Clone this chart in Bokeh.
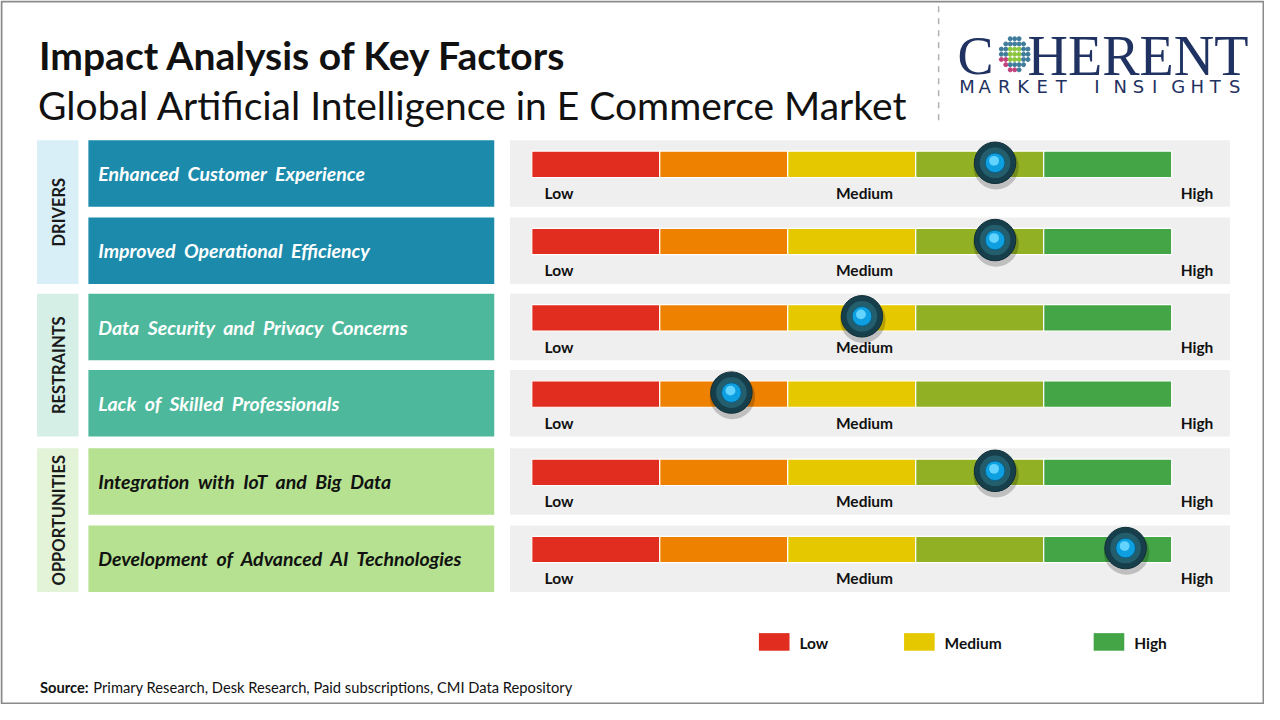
from bokeh.plotting import figure
from bokeh.models import Range1d
from bokeh.embed import file_html
from bokeh.resources import INLINE
from bokeh.core.properties import value
import math

# ---------------- data ----------------
categories = ["DRIVERS", "RESTRAINTS", "OPPORTUNITIES"]
factors = [
    "Enhanced\u00a0 Customer\u00a0 Experience",
    "Improved\u00a0 Operational\u00a0 Efficiency",
    "Data\u00a0 Security\u00a0 and\u00a0 Privacy\u00a0 Concerns",
    "Lack\u00a0 of\u00a0 Skilled\u00a0 Professionals",
    "Integration\u00a0 with\u00a0 IoT\u00a0 and\u00a0 Big\u00a0 Data",
    "Development\u00a0 of\u00a0 Advanced\u00a0 AI\u00a0 Technologies",
]
factor_category = [0, 0, 1, 1, 2, 2]
impact = [3.62, 3.62, 2.58, 1.56, 3.62, 4.64]          # on a 0..5 scale
scale_labels = ["Low", "Medium", "High"]
scale_label_pos = [0.1, 2.6, 5.07]
segment_colors = ["#e12d1f", "#ee8100", "#e6c800", "#92b024", "#43a545"]
legend_labels = ["Low", "Medium", "High"]
legend_colors = ["#e12d1f", "#e6c800", "#43a545"]

title = "Impact Analysis of Key Factors"
subtitle = "Global Artificial Intelligence in E Commerce Market"

# ---------------- layout ----------------
W, H = 1264, 704
p = figure(width=W, height=H, x_range=Range1d(0, 1280), y_range=Range1d(720, 0),
           output_backend="svg", toolbar_location=None, min_border=0)
p.axis.visible = False
p.grid.visible = False
p.outline_line_color = None
p.background_fill_color = "white"

FONT = value("Lato")
row_top = [143, 222, 300, 378, 458, 537]
row_h = 68
cat_fill = ["#d9eff8", "#d5efe7", "#e2f3d8"]
box_fill = ["#1b8aab", "#4db89b", "#b5e190"]
box_text = ["white", "white", "#111111"]

# frame
p.quad(left=[1], right=[1279], top=[1], bottom=[719], fill_color=None,
       line_color="#8a8a8a", line_width=2)

# titles
p.text(x=[39], y=[56], text=[title], text_font=FONT, text_font_style="bold",
       text_font_size="39px", text_color="#111111", text_baseline="middle")
p.text(x=[38], y=[107], text=[subtitle], text_font=FONT,
       text_font_size="39px", text_color="#111111", text_baseline="middle")

# dashed separator
p.segment(x0=[950], y0=[6], x1=[950], y1=[128], line_color="#b0b0b0",
          line_width=1.5, line_dash="6 6")

# logo
NAVY = "#1f3261"
p.text(x=[969], y=[57], text=["C"], text_font=value("Liberation Serif"),
       text_font_size="54px", text_color=NAVY, text_baseline="middle")
p.text(x=[1040], y=[57], text=["HERENT"], text_font=value("Liberation Serif"),
       text_font_size="56px", text_color=NAVY, text_baseline="middle")
gx, gy = [], []
gc = []
for i in range(-3, 4):
    for j in range(-3, 4):
        if i * i + j * j <= 10:
            gx.append(1027 + i * 4.5)
            gy.append(55 + j * 5.3)
            r2 = i * i + j * j
            if r2 <= 2:
                gc.append("#8cc63f")
            elif (i < -1 and j > 0) or (j >= 3 and i <= 0):
                gc.append("#c2417c")
            else:
                gc.append("#3f7c9c")
p.scatter(x=gx, y=gy, size=4.0, color=gc, marker="circle")
sub = "MARKET INSIGHTS"
p.text(x=[971 + k * 19.5 for k in range(len(sub))], y=[88] * len(sub), text=list(sub),
       text_font=value("DejaVu Sans"), text_font_size="18px", text_color=NAVY,
       text_baseline="middle", text_align="left")

# category side boxes
for c, name in enumerate(categories):
    rows = [i for i, fc in enumerate(factor_category) if fc == c]
    t = row_top[rows[0]]
    b = row_top[rows[-1]] + row_h
    p.quad(left=[37], right=[79], top=[t], bottom=[b], fill_color=cat_fill[c], line_color=None)
    p.text(x=[59], y=[(t + b) / 2], text=[name], angle=math.pi / 2, text_font=FONT,
           text_font_style="bold", text_font_size="16.5px", text_color="#1a1a1a",
           text_align="center", text_baseline="middle")

# factor boxes and gauges
GX0, SEG = 538, 129.6
for i, f in enumerate(factors):
    t = row_top[i]
    c = factor_category[i]
    p.quad(left=[89], right=[500], top=[t], bottom=[t + row_h], fill_color=box_fill[c], line_color=None)
    p.text(x=[99], y=[t + row_h / 2], text=[f], text_font=FONT, text_font_style="bold italic",
           text_font_size="19.5px", text_color=box_text[c], text_baseline="middle")
    # panel
    p.quad(left=[516], right=[1245], top=[t], bottom=[t + row_h], fill_color="#efefef", line_color=None)
    # segments
    lefts = [GX0 + k * SEG for k in range(5)]
    p.quad(left=lefts, right=[l + SEG for l in lefts], top=[t + 11] * 5, bottom=[t + 38] * 5,
           fill_color=segment_colors, line_color="white", line_width=1.2)
    # labels
    for lab, pos in zip(scale_labels, scale_label_pos):
        align = "center" if lab == "Medium" else "left"
        p.text(x=[GX0 + pos * SEG], y=[t + 54], text=[lab], text_font=FONT, text_font_style="bold",
               text_font_size="15.5px", text_color="#111111", text_align=align, text_baseline="middle")
    # knob
    kx = GX0 + impact[i] * SEG
    ky = t + 23
    p.circle(x=[kx + 1], y=[ky + 4], radius=23, fill_color="#000000", fill_alpha=0.2, line_color=None)
    p.circle(x=[kx], y=[ky], radius=21, fill_color="#173f4b", line_color="#0f2d36", line_width=1)
    p.circle(x=[kx], y=[ky], radius=15.5, fill_color="#245e6c", line_color=None)
    p.circle(x=[kx], y=[ky], radius=10, fill_color="#0d9fe0", line_color="#0b5f86", line_width=1)
    p.circle(x=[kx - 1], y=[ky - 2], radius=5, fill_color="#62d4ff", line_color=None)

# legend
leg_x = [768, 915, 1107]
p.quad(left=leg_x, right=[x + 31 for x in leg_x], top=[647] * 3, bottom=[665] * 3,
       fill_color=legend_colors, line_color=None)
p.text(x=[x + 41 for x in leg_x], y=[657] * 3, text=legend_labels, text_font=FONT,
       text_font_style="bold", text_font_size="15.5px", text_color="#111111", text_baseline="middle")

# source
p.text(x=[40], y=[702], text=["Source:"], text_font=FONT, text_font_style="bold",
       text_font_size="14.7px", text_color="#111111", text_baseline="middle")
p.text(x=[94], y=[702], text=["Primary Research, Desk Research, Paid subscriptions, CMI Data Repository"],
       text_font=FONT, text_font_size="14.7px", text_color="#111111", text_baseline="middle")

open("out.html", "w").write(file_html(p, INLINE))
